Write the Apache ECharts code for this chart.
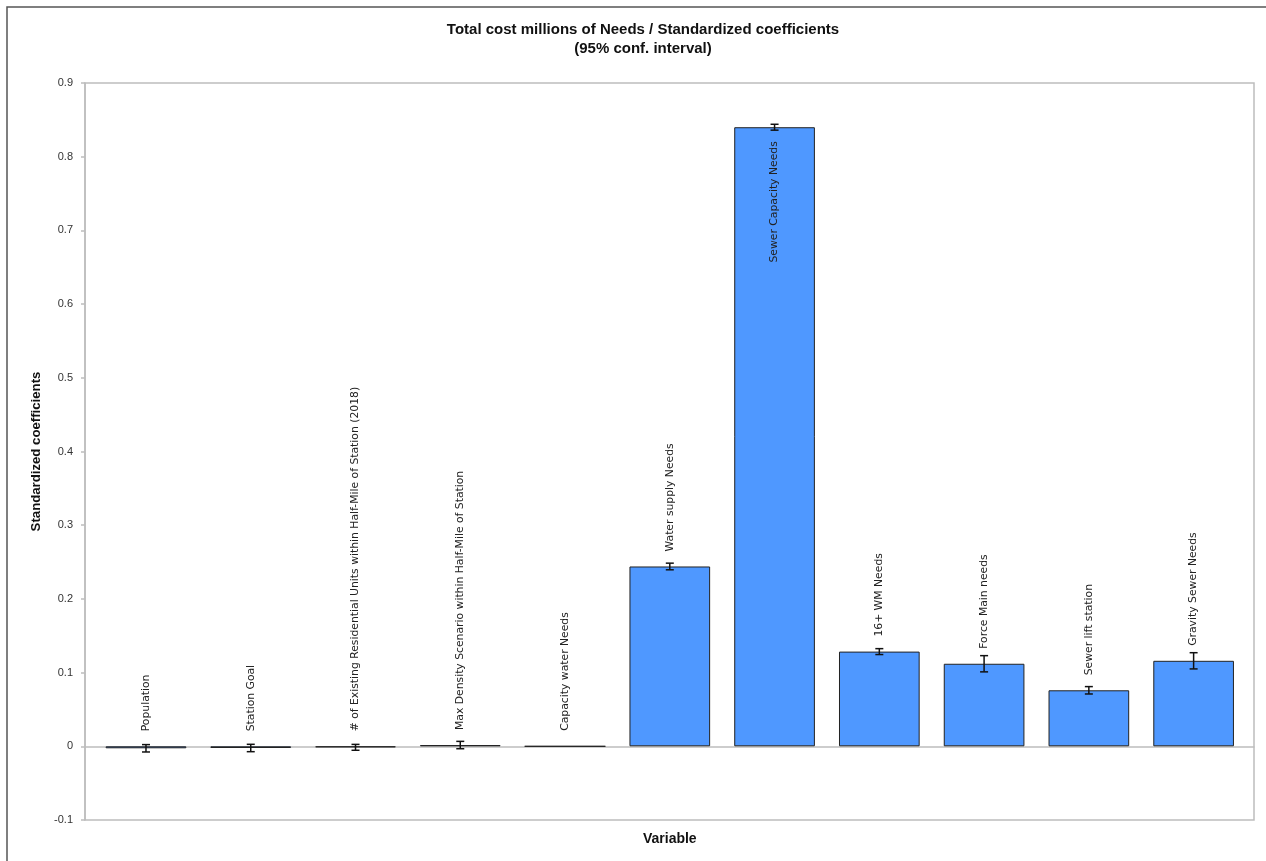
<!DOCTYPE html>
<html>
<head>
<meta charset="utf-8">
<script src="https://cdn.jsdelivr.net/npm/echarts@6/dist/echarts.min.js"></script>
<style>html,body{margin:0;padding:0;background:#fff;}#c{width:1266px;height:861px;}</style>
</head>
<body>
<div id="c"></div>
<script>
const categories = ["Population", "Station Goal", "# of Existing Residential Units within Half-Mile of Station (2018)", "Max Density Scenario within Half-Mile of Station", "Capacity water Needs", "Water supply Needs", "Sewer Capacity Needs", "16+ WM Needs", "Force Main needs", "Sewer lift station", "Gravity Sewer Needs"];
const values = [-0.0027, -0.0023, -0.0014, 0.0017, 0, 0.244, 0.840, 0.1285, 0.112, 0.076, 0.116];
const errors = [0.005, 0.005, 0.004, 0.005, 0, 0.0045, 0.004, 0.004, 0.011, 0.005, 0.011];
const yTicks = { min: -0.1, max: 0.9, interval: 0.1 };
const insideLabelIndex = 6;

const chart = echarts.init(document.getElementById('c'), null, { renderer: 'canvas' });
const FONT = 'Liberation Sans';
const LFONT = 'DejaVu Sans';
const GREY = '#bdbdbd';

const barData = values.map((v, i) => {
  const d = { value: v };
  if (i === insideLabelIndex) {
    d.label = { position: 'insideTop', align: 'right', verticalAlign: 'middle', distance: 14 };
  }
  return d;
});
const errData = values.map((v, i) => [i, v - errors[i], v + errors[i]]);

chart.setOption({
  animation: false,
  backgroundColor: '#fff',
  title: {
    text: 'Total cost millions of Needs / Standardized coefficients\n(95% conf. interval)',
    left: 638, top: 15, textAlign: 'center',
    textStyle: { fontFamily: FONT, fontSize: 15, fontWeight: 'bold', color: '#111', lineHeight: 19 }
  },
  graphic: [{
    type: 'rect', silent: true, z: 100,
    shape: { x: 7, y: 7, width: 1300, height: 900 },
    style: { fill: 'none', stroke: '#555', lineWidth: 1.5 }
  }],
  grid: [
    { left: 85, right: 12, top: 83, bottom: 41, show: true, borderColor: GREY, borderWidth: 1.5, outerBoundsMode: 'none' },
    { left: 93.6, right: 20, top: 83, bottom: 41, outerBoundsMode: 'none' }
  ],
  xAxis: [{
    gridIndex: 0, type: 'category', data: [],
    axisLine: { show: true, onZero: true, lineStyle: { color: GREY, width: 1.5 } },
    axisTick: { show: false }, axisLabel: { show: false }, splitLine: { show: false }
  }, {
    gridIndex: 1, type: 'category', data: categories,
    name: 'Variable', nameLocation: 'middle', nameGap: 12,
    nameTextStyle: { fontFamily: FONT, fontSize: 14, fontWeight: 'bold', color: '#111' },
    axisLine: { show: false, onZero: false }, axisTick: { show: false }, axisLabel: { show: false }, splitLine: { show: false }
  }],
  yAxis: [{
    gridIndex: 0, type: 'value', min: yTicks.min, max: yTicks.max, interval: yTicks.interval,
    name: 'Standardized coefficients', nameLocation: 'middle', nameGap: 38,
    nameTextStyle: { fontFamily: FONT, fontSize: 13.2, fontWeight: 'bold', color: '#111' },
    axisLine: { show: true, lineStyle: { color: GREY, width: 1.5 } },
    axisTick: { show: true, length: 4, lineStyle: { color: GREY, width: 1.5 } },
    axisLabel: { fontFamily: FONT, fontSize: 11, color: '#333', margin: 12,
      formatter: v => (Math.round(v * 10) / 10).toString() },
    splitLine: { show: false }
  }, {
    gridIndex: 1, type: 'value', min: yTicks.min, max: yTicks.max, interval: yTicks.interval, show: false,
    splitLine: { show: false }
  }],
  series: [{
    type: 'bar', xAxisIndex: 1, yAxisIndex: 1, data: barData, barCategoryGap: '23%',
    itemStyle: { color: '#4f98ff', borderColor: '#222', borderWidth: 1 },
    label: { show: true, position: 'top', rotate: 90, align: 'left', verticalAlign: 'middle', distance: 15,
      formatter: '{b}', fontFamily: LFONT, fontSize: 10.8, color: '#222' }
  }, {
    type: 'custom', xAxisIndex: 1, yAxisIndex: 1, data: errData, z: 10,
    renderItem: (params, api) => {
      const x = api.value(0);
      const lo = api.coord([x, api.value(1)]);
      const hi = api.coord([x, api.value(2)]);
      if (Math.abs(hi[1] - lo[1]) < 0.5) return null;
      const w = 4;
      const st = { stroke: '#111', lineWidth: 1.5 };
      return { type: 'group', children: [
        { type: 'line', shape: { x1: lo[0], y1: lo[1], x2: hi[0], y2: hi[1] }, style: st },
        { type: 'line', shape: { x1: lo[0] - w, y1: lo[1], x2: lo[0] + w, y2: lo[1] }, style: st },
        { type: 'line', shape: { x1: hi[0] - w, y1: hi[1], x2: hi[0] + w, y2: hi[1] }, style: st }
      ] };
    }
  }]
});
</script>
</body>
</html>
